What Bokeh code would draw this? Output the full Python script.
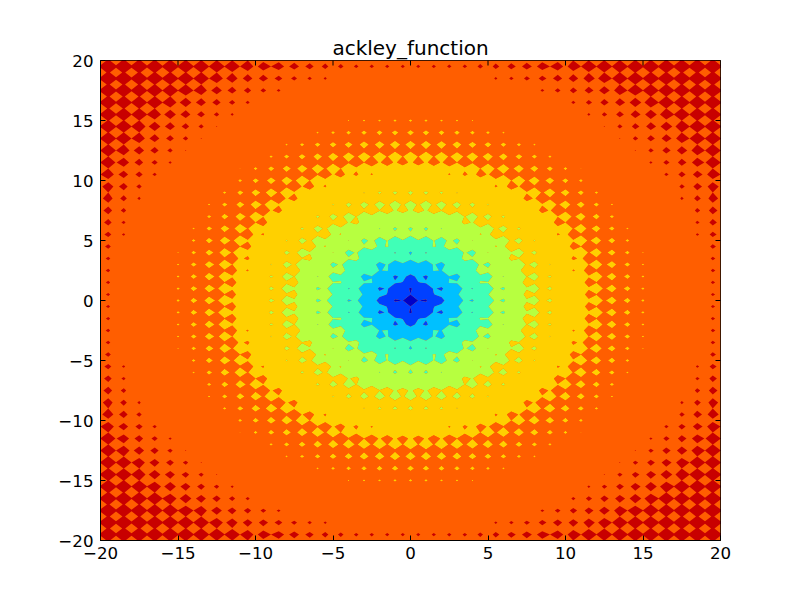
import numpy as np
from bokeh.embed import file_html
from bokeh.models import FixedTicker, Range1d
from bokeh.plotting import figure
from bokeh.resources import INLINE

TITLE = "ackley_function"
TICKS = [-20, -15, -10, -5, 0, 5, 10, 15, 20]
LEVELS = [0, 3, 6, 9, 12, 15, 18, 21, 24]
COLORS = ["#0000c8", "#0040ff", "#00c0ff", "#40ffb7", "#b7ff40", "#ffd000", "#ff5e00", "#c80000"]
STEP = 0.5

# Surface heights estimated by eye from the reference, on a half-unit lattice.
# The picture is mirrored in both axes and across the diagonal, so each row
# holds only y <= x <= 20 for one y.
R00_0 = [0,3.05,2.6,5.5,4.9,7.7,6.9,9.5,8.6,11.1,10.1,12.5,11.5,13.75,12.6,14.8,13.55,15.7,14.4,16.5,15.1,17.2,15.8,17.8,16.3,18.3,16.8,18.75,17.2,19.15,17.6,19.5,18.05,19.8,18.2,20.05,18.4,20.25,18.6,20.45,18.8]
R00_5 = [3.4,4.65,5.9,6.8,8.4,8.7,10.2,10.4,11.8,11.9,13.2,13.2,14.4,14.3,15.45,15.3,16.35,16.1,17.15,16.9,17.85,17.5,18.45,18.05,18.95,18.55,19.4,18.95,19.8,19.3,20.1,19.6,20.4,19.9,20.7,20.15,20.9,20.35,21.2,20.55]
R01_0 = [3.6,6.3,5.4,8.05,7.2,9.75,8.8,11.3,10.3,12.65,11.5,13.85,12.6,14.85,13.6,15.75,14.45,16.55,15.2,17.25,15.8,17.85,16.35,18.3,16.85,18.75,17.25,19.15,17.6,19.5,18.05,19.8,18.2,20.05,18.45,20.25,18.65,20.45,18.85]
R01_5 = [7.5,7.7,9.1,9.25,10.7,10.75,12.1,12.15,13.4,13.4,14.6,14.45,15.6,15.4,16.45,16.2,17.2,16.95,17.9,17.55,18.5,18.1,19.0,18.55,19.4,19.0,19.8,19.35,20.15,19.65,20.45,19.95,20.7,20.2,20.9,20.4,21.2,20.55]
R02_0 = [6.6,8.95,8,10.4,9.35,11.7,10.65,13,11.85,14.1,12.85,15.05,13.8,15.9,14.6,16.65,15.3,17.3,15.9,17.9,16.4,18.4,16.9,18.8,17.3,19.2,17.65,19.55,18.05,19.85,18.2,20.1,18.45,20.3,18.65,20.5,18.85]
R02_5 = [10.2,10.2,11.4,11.45,12.7,12.65,13.85,13.75,14.9,14.75,15.8,15.6,16.6,16.4,17.35,17.1,18.1,17.65,18.55,18.2,19.05,18.65,19.45,19.05,19.85,19.4,20.15,19.7,20.45,19.95,20.7,20.2,20.9,20.4,21.2,20.6]
R03_0 = [9,11.3,10.15,12.4,11.25,13.45,12.3,14.45,13.2,15.35,14,16.1,14.8,16.85,15.45,17.45,16,18,16.5,18.45,16.95,18.85,17.35,19.25,17.7,19.55,18.05,19.85,18.2,20.1,18.45,20.3,18.7,20.5,18.9]
R03_5 = [12.4,12.3,13.43,13.3,14.4,14.2,15.3,15.1,16.15,15.9,16.9,16.6,17.6,17.25,18.2,17.8,18.7,18.3,19.15,18.75,19.55,19.1,19.9,19.45,20.2,19.75,20.5,20,20.75,20.25,20.95,20.45,21.2,20.6]
R04_0 = [11,13.2,11.9,14.1,12.8,14.9,13.6,15.7,14.35,16.4,15,17.1,15.6,17.65,16.2,18.15,16.65,18.6,17.1,19,17.45,19.35,17.8,19.6,18.05,19.9,18.3,20.15,18.5,20.35,18.7,20.55,18.95]
R04_5 = [14.2,14,15.05,14.8,15.85,15.55,16.55,16.25,17.25,16.9,17.85,17.5,18.4,18,18.85,18.45,19.3,18.85,19.65,19.25,20,19.55,20.25,19.8,20.5,20.05,20.8,20.3,20.95,20.5,21.25,20.65]
R05_0 = [12.6,14.75,13.35,15.45,14.1,16.1,14.75,16.75,15.35,17.35,15.9,17.9,16.4,18.3,16.8,18.75,17.2,19.1,17.55,19.45,18.05,19.7,18.05,19.95,18.3,20.2,18.55,20.4,18.75,20.55,19]
R05_5 = [15.7,15.4,16.35,16,16.95,16.65,17.6,17.25,18.1,17.75,18.6,18.2,19.05,18.65,19.45,19,19.8,19.35,20.1,19.6,20.35,19.9,20.55,20.1,20.8,20.35,21.15,20.55,21.3,20.7]
R06_0 = [14,16,14.6,16.6,15.15,17.15,15.65,17.65,16.15,18.1,16.6,18.5,17,18.9,17.35,19.25,17.7,19.55,18.05,19.8,18.1,20.05,18.35,20.3,18.6,20.45,18.8,20.65,19]
R06_5 = [16.9,16.55,17.45,17.1,17.95,17.55,18.45,18,18.85,18.4,19.25,18.85,19.65,19.15,19.95,19.5,20.2,19.75,20.4,19.95,20.7,20.15,20.9,20.35,21.2,20.55,21.35,20.7]
R07_0 = [15.1,17.05,15.55,17.5,16,17.95,16.45,18.35,16.85,18.75,17.2,19.1,17.5,19.4,18.05,19.65,18.1,19.9,18.2,20.15,18.45,20.35,18.65,20.55,18.85,20.75,19.05]
R07_5 = [17.9,17.5,18.35,17.9,18.75,18.3,19.1,18.65,19.5,19,19.8,19.35,20.1,19.6,20.35,19.85,20.6,20.05,20.8,20.25,20.95,20.45,21.25,20.6,21.4,20.75]
R08_0 = [16,17.9,16.35,18.25,16.75,18.65,17.1,18.95,17.4,19.25,17.7,19.55,18.05,19.8,18.1,20.05,18.3,20.25,18.5,20.5,18.7,20.65,18.9,20.8,19.05]
R08_5 = [18.7,18.25,19.05,18.6,19.4,18.9,19.7,19.2,20,19.5,20.25,19.75,20.5,20,20.7,20.15,20.9,20.35,21.15,20.55,21.3,20.65,21.45,20.8]
R09_0 = [16.7,18.55,17,18.85,17.3,19.2,17.6,19.45,18.05,19.7,18.1,19.95,18.3,20.2,18.5,20.4,18.7,20.6,18.9,20.75,19,21,19.2]
R09_5 = [19.4,18.85,19.65,19.15,19.95,19.45,20.2,19.65,20.4,19.9,20.65,20.1,20.8,20.25,20.95,20.45,21.25,20.6,21.4,20.75,21.5,20.85]
R10_0 = [17.3,19.15,17.55,19.4,18.05,19.65,18.05,19.85,18.25,20.05,18.45,20.25,18.6,20.4,18.8,20.55,18.9,20.7,19.05,20.8,19.15]
R10_5 = [19.9,19.4,20.15,19.6,20.35,19.85,20.55,20.05,20.75,20.2,20.95,20.4,21.2,20.55,21.35,20.65,21.45,20.8,21.55,21]
R11_0 = [17.85,19.6,18.05,19.85,18.2,20,18.4,20.2,18.55,20.35,18.7,20.5,18.9,20.65,19,20.75,19.2,21,19.2]
R11_5 = [20.35,19.85,20.55,20,20.7,20.15,20.9,20.35,21.15,20.5,21.3,20.6,21.4,20.75,21.55,20.95,21.65,21.05]
R12_0 = [18.2,20,18.35,20.15,18.5,20.3,18.7,20.45,18.8,20.6,18.95,20.75,19.05,20.85,19.2,21.05,19.25]
R12_5 = [20.7,20.15,20.85,20.3,21.05,20.45,21.25,20.6,21.4,20.7,21.5,20.8,21.6,21,21.7,21.1]
R13_0 = [18.5,20.3,18.65,20.45,18.8,20.6,18.9,20.7,19,20.8,19.15,21,19.2,21.1,19.3]
R13_5 = [21.05,20.45,21.25,20.6,21.35,20.7,21.45,20.8,21.55,21,21.7,21.1,21.75,21.15]
R14_0 = [18.8,20.55,18.9,20.7,19,20.8,19.1,21,19.2,21.05,19.3,21.15,19.35]
R14_5 = [21.35,20.7,21.45,20.8,21.55,20.85,21.65,21.05,21.75,21.15,21.8,21.2]
R15_0 = [19.05,20.8,19.1,20.85,19.2,21.05,19.3,21.15,19.35,21.2,19.4]
R15_5 = [21.55,20.85,21.65,21.05,21.75,21.1,21.8,21.2,21.85,21.25]
R16_0 = [19.2,21.05,19.25,21.1,19.35,21.2,19.4,21.25,19.45]
R16_5 = [21.7,21.1,21.8,21.15,21.85,21.25,21.9,21.3]
R17_0 = [19.35,21.15,19.4,21.25,19.45,21.3,19.5]
R17_5 = [21.85,21.25,21.9,21.3,21.95,21.35]
R18_0 = [19.45,21.3,19.5,21.35,19.55]
R18_5 = [21.95,21.35,22,21.4]
R19_0 = [19.55,21.4,19.6]
R19_5 = [22.05,21.4]
R20_0 = [19.65]

rows = [R00_0,R00_5,R01_0,R01_5,R02_0,R02_5,R03_0,R03_5,R04_0,R04_5,R05_0,R05_5,
        R06_0,R06_5,R07_0,R07_5,R08_0,R08_5,R09_0,R09_5,R10_0,R10_5,R11_0,R11_5,
        R12_0,R12_5,R13_0,R13_5,R14_0,R14_5,R15_0,R15_5,R16_0,R16_5,R17_0,R17_5,
        R18_0,R18_5,R19_0,R19_5,R20_0]

n = len(rows)
quad = np.zeros((n, n))
for j, row in enumerate(rows):
    quad[j, j:] = row
    quad[j:, j] = row
top = np.hstack([quad[:, :0:-1], quad])
z = np.vstack([top[:0:-1], top])
axis_vals = np.arange(-(n - 1), n) * STEP

p = figure(width=792, height=592, frame_width=620, frame_height=480,
           x_range=Range1d(-20, 20), y_range=Range1d(-20, 20),
           output_backend="svg", toolbar_location=None,
           min_border_left=100, min_border_right=72, min_border_top=60, min_border_bottom=52,
           border_fill_color="#ffffff", background_fill_color="#ff5e00",
           outline_line_color="#000000", outline_line_alpha=1.0)
p.xgrid.visible = False
p.ygrid.visible = False

p.contour(axis_vals, axis_vals, z, LEVELS, fill_color=COLORS, line_color=None)

labels = {t: str(t).replace("-", "\u2212") for t in TICKS}
for ax in (p.xaxis[0], p.yaxis[0]):
    ax.ticker = FixedTicker(ticks=TICKS)
    ax.major_label_overrides = labels
    ax.major_label_text_font = "DejaVu Sans"
    ax.major_label_text_font_size = "16.67px"
    ax.major_label_text_color = "#000000"
    ax.major_tick_in = 5
    ax.major_tick_out = 0
    ax.minor_tick_in = 0
    ax.minor_tick_out = 0
    ax.major_tick_line_color = "#000000"
    ax.axis_line_color = "#000000"
p.xaxis[0].major_label_standoff = 6
p.yaxis[0].major_label_standoff = 7

# Tick marks on the top and right edges: markers centred on the edge, half clipped by the frame.
edge_top = [p.y_range.end] * len(TICKS)
edge_right = [p.x_range.end] * len(TICKS)
p.scatter(TICKS, edge_top, marker="dash", size=10, angle=np.pi / 2, line_color="#000000", line_width=1)
p.scatter(edge_right, TICKS, marker="dash", size=10, line_color="#000000", line_width=1)

p.title.text = TITLE
p.title.align = "center"
p.title.text_font = "DejaVu Sans"
p.title.text_font_style = "normal"
p.title.text_font_size = "20px"
p.title.text_color = "#000000"
p.title.offset = 0
p.title.standoff = 2

open("out.html", "w").write(file_html(p, INLINE))
